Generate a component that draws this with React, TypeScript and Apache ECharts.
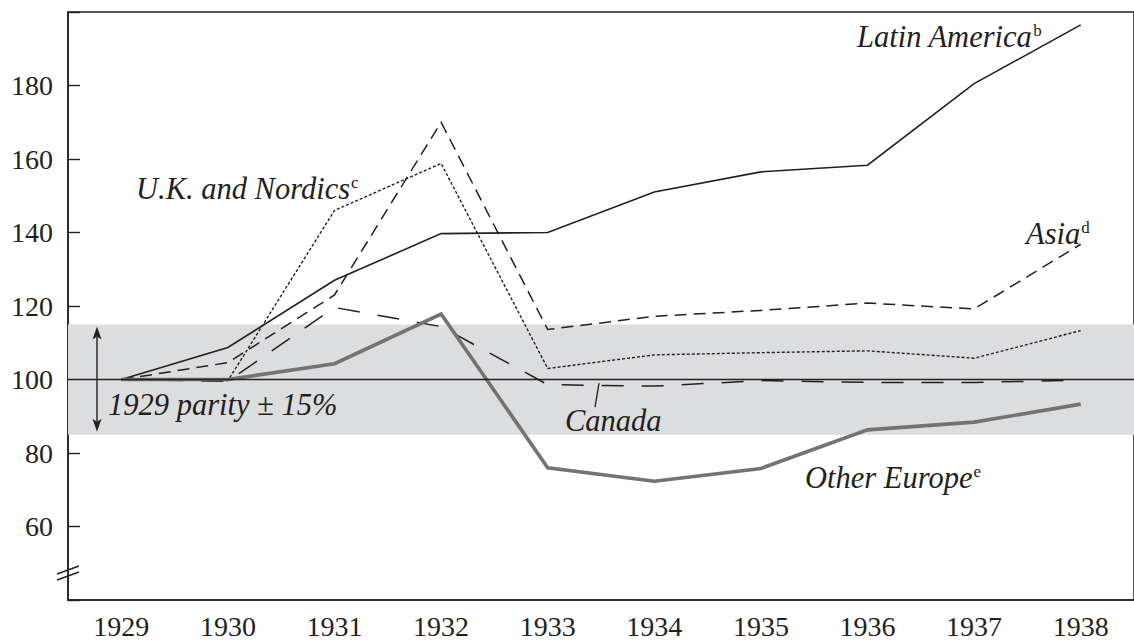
import React, { useEffect, useRef } from "react";
import * as echarts from "echarts";

const years = ["1929", "1930", "1931", "1932", "1933", "1934", "1935", "1936", "1937", "1938"];
const latinAmerica = [100, 108.7, 127, 139.7, 140, 151, 156.5, 158.3, 180.5, 196.5];
const ukNordics = [100, 99.7, 146, 158.8, 103, 106.7, 107.3, 107.8, 105.8, 113.3];
const asia = [100, 104.6, 123, 170, 113.6, 117.2, 118.8, 120.8, 119.2, 136.8];
const canada = [100, 99.5, 119.6, 114.4, 98.6, 98.2, 99.7, 99.2, 99.2, 99.8];
const otherEurope = [100, 100, 104.3, 117.8, 76, 72.3, 75.8, 86.3, 88.4, 93.3];
const parityBand = [85, 115];
const parityLine = 100;

const SERIF = "Liberation Serif, Times New Roman, serif";
const INK = "#231f20";

function label(text: string, sup: string, x: number, y: number) {
  return {
    type: "text",
    x,
    y,
    z: 50,
    style: {
      text: sup ? `{m|${text}}{s|${sup}}` : `{m|${text}}`,
      verticalAlign: "middle",
      rich: {
        m: { fontFamily: SERIF, fontStyle: "italic", fontSize: 30.5, fill: INK },
        s: { fontFamily: SERIF, fontSize: 17, fill: INK, verticalAlign: "top", lineHeight: 18, padding: [0, 0, 0, 1] },
      },
    },
  };
}

export default function App() {
  const ref = useRef<HTMLDivElement>(null);
  useEffect(() => {
    document.body.style.margin = "0";
    const chart = echarts.init(ref.current!, null, { renderer: "svg" });
    const lineSeries = (name: string, data: number[], lineStyle: any) => ({
      name,
      type: "line",
      data,
      symbol: "none",
      z: 3,
      silent: true,
      lineStyle: { color: INK, width: 1.5, join: "miter", ...lineStyle },
    });
    chart.setOption({
      animation: false,
      backgroundColor: "#ffffff",
      grid: {
        left: 68,
        top: 12,
        width: 1075,
        height: 588,
        show: true,
        borderColor: INK,
        borderWidth: 1.5,
        backgroundColor: "transparent",
      },
      xAxis: {
        type: "category",
        data: years,
        boundaryGap: true,
        axisLine: { lineStyle: { color: INK, width: 1.6 } },
        axisTick: { inside: true, length: 11, lineStyle: { color: INK, width: 1.4 } },
        axisLabel: { margin: 12, fontSize: 28, fontFamily: SERIF, color: INK },
        splitLine: { show: false },
      },
      yAxis: {
        type: "value",
        min: 40,
        max: 200,
        interval: 20,
        axisLine: { show: true, lineStyle: { color: INK, width: 1.6 } },
        axisTick: { show: true, inside: true, length: 12, lineStyle: { color: INK, width: 1.4 } },
        axisLabel: {
          margin: 15,
          fontSize: 28,
          fontFamily: SERIF,
          color: INK,
          formatter: (v: number) => (v === 40 || v === 200 ? "" : String(v)),
        },
        splitLine: { show: false },
      },
      series: [
        {
          name: "band",
          type: "line",
          data: [],
          z: 1,
          silent: true,
          markArea: {
            silent: true,
            itemStyle: { color: "#dcdddf" },
            data: [[{ yAxis: parityBand[0] }, { yAxis: parityBand[1] }]],
          },
          markLine: {
            silent: true,
            symbol: "none",
            label: { show: false },
            lineStyle: { color: INK, width: 1.4, type: "solid" },
            data: [{ yAxis: parityLine }],
          },
        },
        lineSeries("Latin America", latinAmerica, { width: 1.6 }),
        lineSeries("U.K. and Nordics", ukNordics, { width: 1.4, type: [3, 2] }),
        lineSeries("Asia", asia, { width: 1.5, type: [12, 7] }),
        lineSeries("Canada", canada, { width: 1.5, type: [22, 18] }),
        lineSeries("Other Europe", otherEurope, { width: 3.6, color: "#737373" }),
      ],
    });

    const py = (v: number) => chart.convertToPixel({ yAxisIndex: 0 }, v) as number;
    const ax = 97;
    const top = py(parityBand[1]) + 2;
    const bot = py(parityBand[0]) - 3;
    chart.setOption({
      graphic: [
        label("Latin America", "b", 857, 37),
        label("U.K. and Nordics", "c", 136, 189),
        label("Asia", "d", 1026, 234),
        label("1929 parity ± 15%", "", 108, 405),
        label("Canada", "", 565, 421),
        label("Other Europe", "e", 805, 478),
        {
          type: "line",
          z: 50,
          shape: { x1: ax, y1: top + 10, x2: ax, y2: bot - 10 },
          style: { stroke: INK, lineWidth: 1.4 },
        },
        {
          type: "polygon",
          z: 50,
          shape: { points: [[ax, top], [ax - 4.5, top + 13], [ax, top + 10], [ax + 4.5, top + 13]] },
          style: { fill: INK },
        },
        {
          type: "polygon",
          z: 50,
          shape: { points: [[ax, bot], [ax - 4.5, bot - 13], [ax, bot - 10], [ax + 4.5, bot - 13]] },
          style: { fill: INK },
        },
        {
          type: "line",
          z: 50,
          shape: { x1: 599, y1: py(99), x2: 595, y2: py(92.5) },
          style: { stroke: INK, lineWidth: 1.3 },
        },
        {
          type: "line",
          z: 50,
          shape: { x1: 57, y1: 574, x2: 79, y2: 566 },
          style: { stroke: INK, lineWidth: 1.5 },
        },
        {
          type: "line",
          z: 50,
          shape: { x1: 57, y1: 580, x2: 79, y2: 572 },
          style: { stroke: INK, lineWidth: 1.5 },
        },
      ],
    });
    return () => chart.dispose();
  }, []);
  return <div ref={ref} style={{ width: 1134, height: 640 }} />;
}
